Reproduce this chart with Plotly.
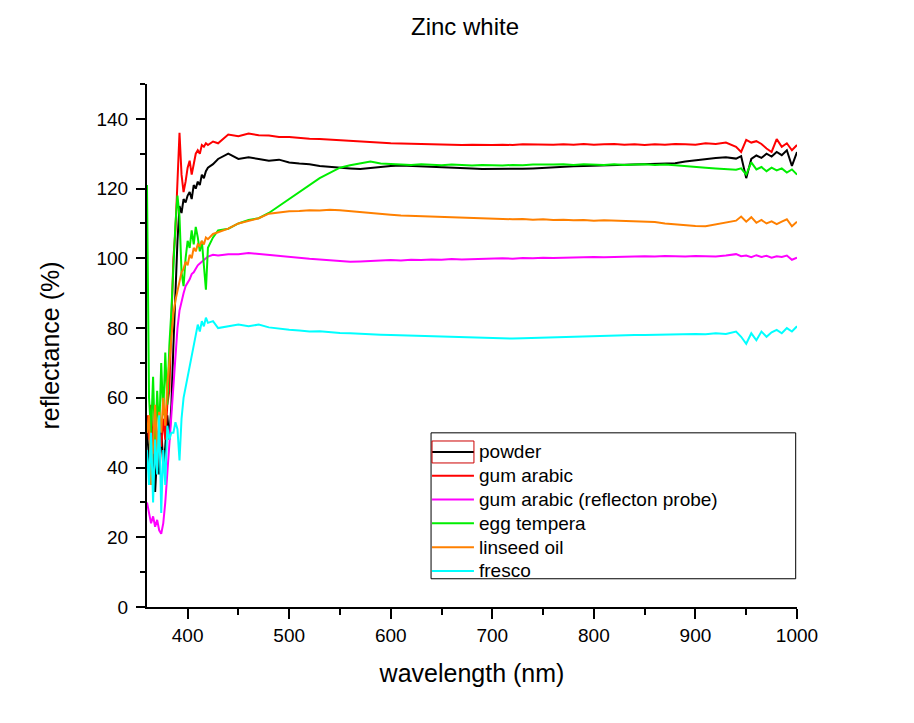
import plotly.graph_objects as go

# wavelength grid (nm)
wavelength = [360, 362, 364, 366, 368, 370, 372, 374, 376, 378, 380, 382, 384, 386, 388,
              390, 392, 394, 396, 398, 400, 402, 404, 406, 408, 410, 412, 414, 416, 418, 420,
              425, 430, 440, 450, 460, 470, 480, 490, 500, 510, 520, 530, 540, 550, 560,
              570, 580, 590, 600, 610, 620, 630, 640, 650, 660, 670, 680, 690, 700, 710,
              720, 730, 740, 750, 760, 770, 780, 790, 800, 810, 820, 830, 840, 850, 860,
              870, 880, 890, 900, 910, 920, 930, 940, 945, 950, 955, 960, 965, 970, 975,
              980, 985, 990, 995, 1000]

powder = [50, 42, 36, 48, 33, 44, 38, 52, 40, 46, 55, 48, 58, 75, 92,
          105, 115, 113, 117, 116, 118, 119, 117, 121, 120, 122, 121, 124, 123, 125, 126,
          127, 128.5, 130, 128.5, 129, 128.5, 128, 128.3, 127.5, 127.2, 127, 126.5, 126.2, 126, 125.8,
          125.6, 125.9, 126.3, 126.5, 126.6, 126.5, 126.3, 126.4, 126.2, 126, 125.9, 125.8, 125.6, 125.6, 125.5,
          125.6, 125.7, 125.8, 126, 126.1, 126.3, 126.4, 126.5, 126.6, 126.7, 126.8, 126.8, 126.9, 127, 127,
          127.1, 127.3, 127.8, 128.2, 128.4, 128.8, 129, 128.6, 129.3, 123, 128.5, 129.5, 128.8, 130, 129.2,
          130.5, 129.6, 131, 126.5, 130.5]

gum_arabic = [55, 48, 58, 44, 52, 40, 50, 46, 54, 48, 58, 62, 82, 100, 108,
              122, 136, 124, 119, 122, 126, 128, 124, 127, 130, 131, 130, 132.5, 132, 133, 132.5,
              133.5, 133, 135.5, 135, 135.8, 135.3, 135.2, 134.8, 134.8, 134.5, 134.3, 134.2, 134, 133.8, 133.7,
              133.6, 133.4, 133.2, 133, 132.9, 132.8, 132.7, 132.7, 132.6, 132.6, 132.5, 132.6, 132.5, 132.5, 132.6,
              132.5, 132.7, 132.6, 132.7, 132.6, 132.7, 132.6, 132.8, 132.6, 132.7, 132.8, 132.6, 132.7, 132.5, 132.7,
              132.6, 132.8, 132.7, 132.6, 133, 132.8, 133.2, 132, 130.5, 134, 133.2, 133.6, 132.8, 131.5, 130.5,
              134.2, 132, 133, 131, 132.5]

reflection_probe = [30, 27, 24, 26, 23, 25, 22, 21, 24, 30, 38, 46, 55, 64, 72,
                    80, 85, 88, 90, 92, 93, 94, 95.5, 96, 97, 98, 98.5, 99, 99.5, 100, 100.5,
                    101, 100.8, 101.2, 101.2, 101.5, 101.2, 101, 100.7, 100.3, 100.1, 99.9, 99.7, 99.5, 99.2, 99,
                    99.1, 99.3, 99.4, 99.5, 99.4, 99.6, 99.5, 99.7, 99.6, 99.8, 99.7, 99.8, 99.9, 99.8, 100,
                    99.9, 100.1, 100, 100.2, 100.1, 100.2, 100.3, 100.2, 100.4, 100.3, 100.4, 100.5, 100.4, 100.6, 100.5,
                    100.7, 100.6, 100.5, 100.7, 100.6, 100.5, 100.8, 101.2, 100.6, 100.8, 100.3, 100.9, 100.4, 100.7, 100.2,
                    100.6, 100.4, 100.8, 99.6, 100.2]

egg_tempera = [121, 60, 50, 66, 45, 62, 50, 70, 55, 73, 58, 75, 85, 100, 110,
               118, 112, 96, 92, 100, 105, 103, 108, 104, 109, 106, 102, 105, 98, 91, 103,
               106, 108, 108.5, 110, 111, 111.5, 113, 115, 117, 119, 121, 123, 124.5, 126, 126.7,
               127.3, 127.8, 127.2, 127, 127, 126.8, 127, 126.8, 126.7, 126.9, 126.7, 126.6, 126.8, 126.7, 126.6,
               126.8, 126.7, 126.9, 126.8, 126.9, 127, 126.8, 127, 126.9, 126.8, 127, 126.8, 126.9, 127, 126.8,
               126.9, 126.7, 126.4, 126.2, 126, 125.8, 125.6, 125.4, 125.8, 124, 127.5, 125.5, 126.2, 125, 126,
               125.2, 125.8, 124.6, 125.5, 124]

linseed_oil = [50, 55, 35, 48, 58, 44, 56, 50, 60, 52, 64, 70, 78, 84, 88,
               91, 94, 96, 97, 99, 98, 101, 100, 103, 102, 104, 103.5, 105, 104, 106, 105.5,
               107, 107.5, 108.5, 110, 110.8, 111.5, 112.8, 113.2, 113.5, 113.6, 113.8, 113.7, 113.9, 113.8, 113.5,
               113.3, 113, 112.8, 112.5, 112.3, 112.2, 112, 111.9, 111.8, 111.7, 111.6, 111.5, 111.4, 111.3, 111.4,
               111.2, 111.3, 111.1, 111.2, 111, 111.1, 110.9, 111, 110.8, 110.9, 110.8, 110.5, 110.6, 110.3, 110.4,
               110, 109.7, 109.5, 109.3, 109.2, 109.8, 110.4, 110.8, 112, 110.5, 111.8, 110.2, 111, 110, 110.6,
               109.8, 110.5, 111.2, 109.2, 110.5]

fresco = [45, 35, 50, 30, 48, 38, 55, 27, 45, 35, 52, 48, 50, 50, 53,
          51, 42, 54, 60, 63, 66, 69, 72, 75, 78, 81, 79, 82, 80.5, 83, 81.5,
          82, 80, 80.5, 81, 80.5, 81, 80.2, 79.8, 79.5, 79.3, 79, 79.1, 78.8, 78.6, 78.5,
          78.3, 78.2, 78.1, 78, 77.9, 77.8, 77.7, 77.6, 77.5, 77.4, 77.3, 77.2, 77.1, 77, 76.9,
          77, 77.1, 77.2, 77.3, 77.4, 77.5, 77.5, 77.6, 77.6, 77.7, 77.8, 77.9, 78, 78, 78.1,
          78.1, 78.2, 78.2, 78.3, 78.2, 78.5, 78.3, 79, 77.5, 75.5, 78.5, 76.5, 79, 77.5, 78.8,
          79.5, 78.5, 80, 79, 80.5]

series = [
    ("powder", powder, "#000000"),
    ("gum arabic", gum_arabic, "#FF0000"),
    ("gum arabic (reflecton probe)", reflection_probe, "#FF00FF"),
    ("egg tempera", egg_tempera, "#00EE00"),
    ("linseed oil", linseed_oil, "#FF8000"),
    ("fresco", fresco, "#00FFFF"),
]

fig = go.Figure()
for name, vals, col in series:
    fig.add_trace(go.Scatter(x=wavelength, y=vals, mode="lines", name=name,
                             line=dict(color=col, width=2), showlegend=False))

font = "Arial, Liberation Sans, sans-serif"

fig.update_layout(
    width=914, height=723,
    paper_bgcolor="white", plot_bgcolor="white",
    margin=dict(l=139, r=125, t=76, b=124),
    font=dict(family=font, size=19, color="black"),
    title=dict(text="Zinc white", x=0.5, xanchor="center", y=0.974, yanchor="middle",
               font=dict(size=24)),
)

# hand-built legend (Origin style: tight rows inside a framed box)
fig.add_shape(type="rect", xref="paper", yref="paper",
              x0=0.437, x1=0.998, y0=0.054, y1=0.333,
              line=dict(color="black", width=1))
row_top = 0.2964   # centre of first row
row_step = 0.0455
for i, (name, vals, col) in enumerate(series):
    yy = row_top - i * row_step
    fig.add_shape(type="line", xref="paper", yref="paper",
                  x0=0.4385, x1=0.503, y0=yy, y1=yy,
                  line=dict(color=col, width=2))
    fig.add_annotation(xref="paper", yref="paper", x=0.507, y=yy,
                       text=name, showarrow=False, xanchor="left", yanchor="middle",
                       font=dict(size=19, color="black"))
# small red box drawn round the first legend entry
fig.add_shape(type="rect", xref="paper", yref="paper",
              x0=0.4385, x1=0.503, y0=row_top - 0.021, y1=row_top + 0.021,
              line=dict(color="#CC0000", width=1))

fig.update_xaxes(
    range=[360, 1000], showgrid=False, zeroline=False,
    showline=True, linecolor="black", linewidth=2,
    ticks="outside", ticklen=10, tickwidth=2, tickcolor="black",
    tick0=400, dtick=100,
    minor=dict(ticks="outside", ticklen=6, tickwidth=2, tickcolor="black", dtick=50, tick0=350),
    title=dict(text="wavelength (nm)", font=dict(size=25), standoff=20),
    tickfont=dict(size=19),
)
fig.update_yaxes(
    range=[0, 150], showgrid=False, zeroline=False,
    showline=True, linecolor="black", linewidth=2,
    ticks="outside", ticklen=9, tickwidth=2, tickcolor="black",
    tick0=0, dtick=20,
    minor=dict(ticks="outside", ticklen=5, tickwidth=2, tickcolor="black", dtick=10),
    title=dict(text="reflectance (%)", font=dict(size=25), standoff=30),
    tickfont=dict(size=19), ticklabelstandoff=4,
)

fig.write_html("out.html")
